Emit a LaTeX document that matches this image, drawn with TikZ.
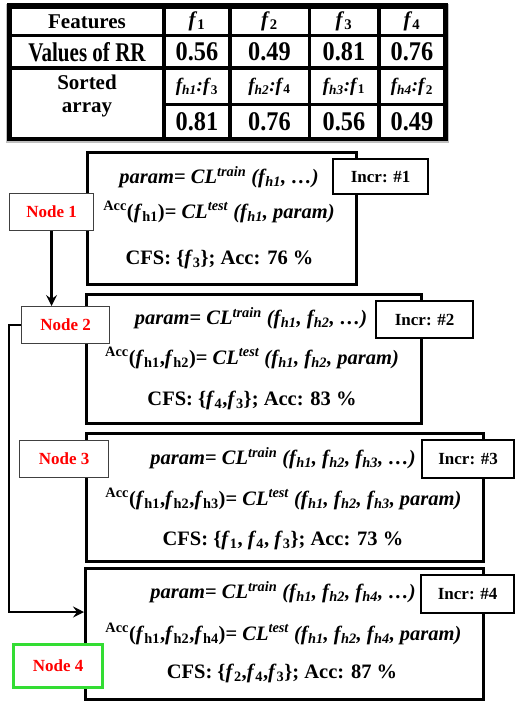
\documentclass[tikz,border=0pt]{standalone}
\usepackage{fontspec}
\setmainfont{Liberation Serif}
\newfontfamily\tallfont[FakeStretch=0.78]{Liberation Serif}
\newfontfamily\numfont[FakeStretch=0.9]{Liberation Serif}
\usetikzlibrary{arrows.meta}
\newcommand\fhi[1]{\textit{f\kern0.3pt\textsubscript{#1}}}
\newcommand\fhu[1]{\textit{f}\textsubscript{#1}}
\newcommand\CLtr{\textit{CL\textsuperscript{train}}}
\newcommand\CLte{\textit{CL\textsuperscript{test}}}
\newcommand\accs{\textsuperscript{Acc}}
\definecolor{brightgreen}{RGB}{51,221,51}
\tikzset{
  mainbox/.style={draw, line width=2.8pt, fill=white, inner sep=0pt, anchor=north west},
  incrbox/.style={draw, line width=2.2pt, fill=white, inner sep=0pt, anchor=north west,
    font=\fontsize{17}{20}\selectfont\bfseries},
  nodebox/.style={draw=black!75, line width=1.1pt, fill=white, inner sep=0pt, anchor=north west,
    text=red, font=\fontsize{17}{20}\selectfont\bfseries},
  txt/.style={inner sep=0pt, font=\fontsize{20.5}{24}\selectfont\bfseries},
  hdr/.style={inner sep=0pt, font=\fontsize{21}{24}\selectfont\bfseries},
  tall/.style={inner sep=0pt, font=\fontsize{27}{30}\selectfont\tallfont\bfseries},
  num/.style={inner sep=0pt, font=\fontsize{27}{30}\selectfont\numfont\bfseries},
  srt/.style={inner sep=0pt, font=\fontsize{19}{22}\selectfont\bfseries},
  conn/.style={line width=2.2pt, -{Stealth[length=11pt,width=11pt,inset=4pt]}},
}
\begin{document}
\begin{tikzpicture}[x=1pt,y=-1pt]
\useasboundingbox (0,0) rectangle (514,701);
% ---------- table ----------
\fill[black!25] (6,4) rectangle (449,143);
\fill[black] (7,3) rectangle (448,141);
\foreach \xa/\xb in {166/228,232/307.5,311/377,381/443}{
  \fill[white] (\xa,9) rectangle (\xb,34);
  \fill[white] (\xa,37.5) rectangle (\xb,66);
  \fill[white] (\xa,70) rectangle (\xb,103);
  \fill[white] (\xa,106) rectangle (\xb,137);
}
\fill[white] (11.5,9) rectangle (162,34);
\fill[white] (11.5,37.5) rectangle (162,66);
\fill[white] (11.5,70) rectangle (162,137);
\node[hdr] (tf) at (87,21.5) {Features};
\node[hdr] (t1) at (197,21.5) {\fhu{1}};
\node[hdr] (t2) at (269.5,21.5) {\fhu{2}};
\node[hdr] (t3) at (344,21.5) {\fhu{3}};
\node[hdr] (t4) at (412,21.5) {\fhu{4}};
\node[tall] (tv) at (87,52) {Values of RR};
\node[num] (v1) at (197,52) {0.56};
\node[num] (v2) at (269.5,52) {0.49};
\node[num] (v3) at (344,52) {0.81};
\node[num] (v4) at (412,52) {0.76};
\node[hdr, align=center, font=\fontsize{21}{23}\selectfont\bfseries] (ts) at (87,96) {Sorted\\array};
\node[srt] (s1) at (197,86.5) {\textit{f\textsubscript{h1}:f}\textsubscript{3}};
\node[srt] (s2) at (269.5,86.5) {\textit{f\textsubscript{h2}:f}\textsubscript{4}};
\node[srt] (s3) at (344,86.5) {\textit{f\textsubscript{h3}:f}\textsubscript{1}};
\node[srt] (s4) at (412,86.5) {\textit{f\textsubscript{h4}:f}\textsubscript{2}};
\node[num] (w1) at (197,122) {0.81};
\node[num] (w2) at (269.5,122) {0.76};
\node[num] (w3) at (344,122) {0.56};
\node[num] (w4) at (412,122) {0.49};
% ---------- boxes ----------
\node[mainbox, minimum width=269pt, minimum height=132pt] (b1) at (86,151) {};
\node[mainbox, minimum width=335pt, minimum height=129pt] (b2) at (85,293) {};
\node[mainbox, minimum width=397pt, minimum height=128pt] (b3) at (85,432) {};
\node[mainbox, minimum width=398pt, minimum height=131pt] (b4) at (84,567) {};
% box 1 text
\node[txt] (b1a) at (219,177) {\textit{param}= \CLtr\ \textit{(\fhi{h1}, …)}};
\node[txt] (b1b) at (219,212) {\accs(\fhu{h1})= \CLte\ \textit{(\fhi{h1}, param)}};
\node[txt] (b1c) at (219.5,259) {CFS: \{\fhu{3}\}; Acc: 76 \%};
% box 2 text
\node[txt] (b2a) at (251,318) {\textit{param}= \CLtr\ \textit{(\fhi{h1}, \fhi{h2}, …)}};
\node[txt] (b2b) at (252,358) {\accs(\fhu{h1},\fhu{h2})= \CLte\ \textit{(\fhi{h1}, \fhi{h2}, param)}};
\node[txt] (b2c) at (252,400) {CFS: \{\fhu{4},\fhu{3}\}; Acc: 83 \%};
% box 3 text
\node[txt] (b3a) at (283,458) {\textit{param}= \CLtr\ \textit{(\fhi{h1}, \fhi{h2}, \fhi{h3}, …)}};
\node[txt] (b3b) at (283.5,499) {\accs(\fhu{h1},\fhu{h2},\fhu{h3})= \CLte\ \textit{(\fhi{h1}, \fhi{h2}, \fhi{h3}, param)}};
\node[txt] (b3c) at (283,540) {CFS: \{\fhu{1}, \fhu{4}, \fhu{3}\}; Acc: 73 \%};
% box 4 text
\node[txt] (b4a) at (283,592) {\textit{param}= \CLtr\ \textit{(\fhi{h1}, \fhi{h2}, \fhi{h4}, …)}};
\node[txt] (b4b) at (283.5,634) {\accs(\fhu{h1},\fhu{h2},\fhu{h4})= \CLte\ \textit{(\fhi{h1}, \fhi{h2}, \fhi{h4}, param)}};
\node[txt] (b4c) at (282,673) {CFS: \{\fhu{2},\fhu{4},\fhu{3}\}; Acc: 87 \%};
% ---------- incr boxes ----------
\node[incrbox, minimum width=95pt, minimum height=35pt] (i1) at (332,158) {Incr: \#1};
\node[incrbox, minimum width=97pt, minimum height=37pt] (i2) at (375,300) {Incr: \#2};
\node[incrbox, minimum width=92pt, minimum height=38pt] (i3) at (421,439) {Incr: \#3};
\node[incrbox, minimum width=93pt, minimum height=38pt] (i4) at (420,574) {Incr: \#4};
% ---------- node labels ----------
\node[nodebox, minimum width=84pt, minimum height=37pt] (n1) at (9,193) {Node 1};
\node[nodebox, minimum width=88pt, minimum height=37pt] (n2) at (21,306) {Node 2};
\node[nodebox, minimum width=89pt, minimum height=37pt] (n3) at (19,440) {Node 3};
\node[nodebox, draw=brightgreen, line width=3.2pt, minimum width=89pt, minimum height=43pt] (n4) at (12,643) {Node 4};
% ---------- connectors ----------
\coordinate (j) at (9,612);
\draw[conn] (n1.south) -- (n1.south |- n2.north);
\draw[conn] (n2.west) -| (j) -- (b4.west |- j);
\end{tikzpicture}
\end{document}
